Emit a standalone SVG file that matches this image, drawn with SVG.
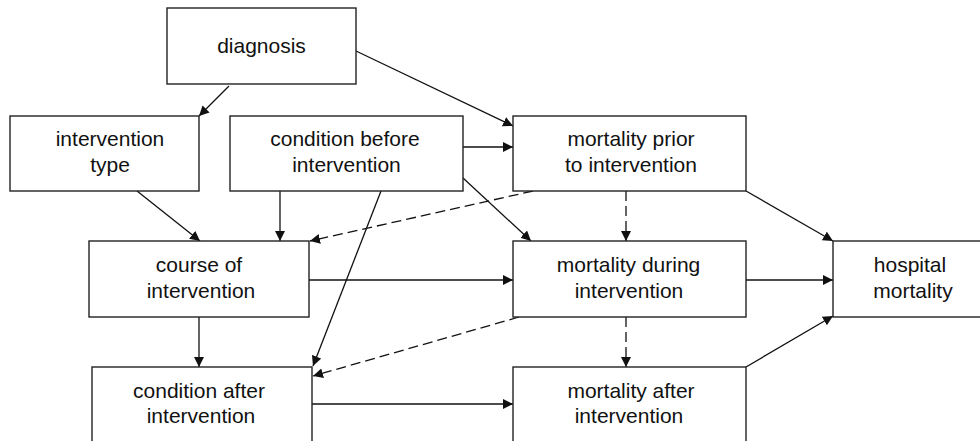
<svg xmlns="http://www.w3.org/2000/svg" width="980" height="441" viewBox="0 0 980 441">
<style>
.box{fill:#fff;stroke:#222;stroke-width:1.4}
.t{font-family:"Liberation Sans",Arial,sans-serif;font-size:21px;fill:#111;text-anchor:middle}
.c{stroke:#111;stroke-width:1.3;fill:none;marker-end:url(#ah)}
.d{stroke-dasharray:10 5}
</style>
<defs>
<marker id="ah" markerUnits="userSpaceOnUse" markerWidth="11" markerHeight="11" refX="10" refY="5" orient="auto">
<path d="M0,0 L10,5 L0,10 z" fill="#111"/>
</marker>
</defs>
<rect width="980" height="441" fill="#fff"/>
<g id="connectors">
<line class="c" x1="229" y1="86" x2="199" y2="116"/>
<line class="c" x1="356" y1="51" x2="513" y2="126"/>
<line class="c" x1="463" y1="147" x2="513" y2="147"/>
<line class="c" x1="463" y1="178" x2="531" y2="241"/>
<line class="c" x1="280" y1="191" x2="280" y2="241"/>
<line class="c" x1="381" y1="191" x2="313" y2="366"/>
<line class="c" x1="137" y1="191" x2="200" y2="241"/>
<line class="c d" x1="533" y1="191" x2="310" y2="241"/>
<line class="c d" x1="626" y1="191" x2="626" y2="241"/>
<line class="c" x1="746" y1="191" x2="833" y2="241"/>
<line class="c" x1="309" y1="280" x2="513" y2="280"/>
<line class="c" x1="199" y1="317" x2="199" y2="367"/>
<line class="c" x1="746" y1="280" x2="833" y2="280"/>
<line class="c d" x1="519" y1="317" x2="313" y2="376"/>
<line class="c d" x1="626" y1="317" x2="626" y2="367"/>
<line class="c" x1="746" y1="367" x2="833" y2="316"/>
<line class="c" x1="312" y1="404" x2="513" y2="404"/>
</g>
<g id="diagnosis">
<rect class="box" x="167" y="8" width="189" height="76"/>
<text class="t" x="261.5" y="53">diagnosis</text>
</g>
<g id="intervention-type">
<rect class="box" x="10" y="116" width="189" height="75"/>
<text class="t" x="110" y="146">intervention</text>
<text class="t" x="110" y="172">type</text>
</g>
<g id="condition-before">
<rect class="box" x="230" y="116" width="233" height="75"/>
<text class="t" x="345" y="146">condition before</text>
<text class="t" x="346.5" y="172">intervention</text>
</g>
<g id="mortality-prior">
<rect class="box" x="513" y="116" width="233" height="75"/>
<text class="t" x="631" y="146">mortality prior</text>
<text class="t" x="631" y="172">to intervention</text>
</g>
<g id="course">
<rect class="box" x="89" y="241" width="220" height="76"/>
<text class="t" x="199" y="272">course of</text>
<text class="t" x="201" y="298">intervention</text>
</g>
<g id="mortality-during">
<rect class="box" x="513" y="241" width="233" height="76"/>
<text class="t" x="628.5" y="272">mortality during</text>
<text class="t" x="629" y="298">intervention</text>
</g>
<g id="hospital-mortality">
<rect class="box" x="833" y="241" width="160" height="76"/>
<text class="t" x="910" y="272">hospital</text>
<text class="t" x="913" y="298">mortality</text>
</g>
<g id="condition-after">
<rect class="box" x="92" y="367" width="220" height="76"/>
<text class="t" x="199" y="398">condition after</text>
<text class="t" x="201" y="423">intervention</text>
</g>
<g id="mortality-after">
<rect class="box" x="513" y="367" width="233" height="76"/>
<text class="t" x="631" y="398">mortality after</text>
<text class="t" x="629" y="423">intervention</text>
</g>
</svg>
